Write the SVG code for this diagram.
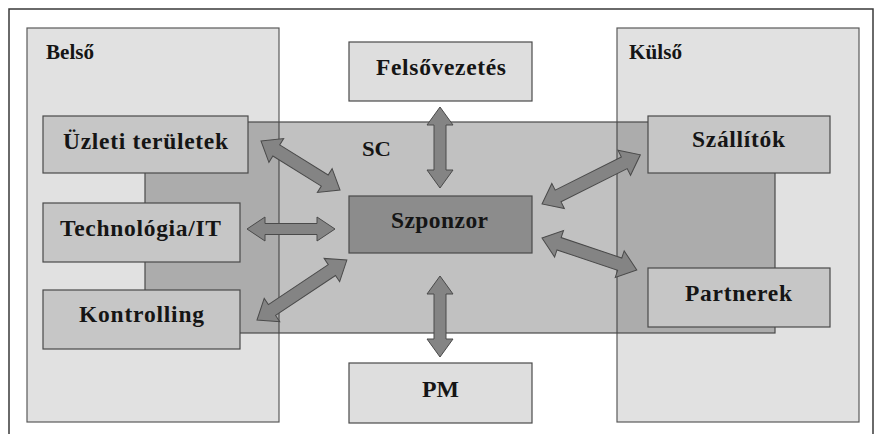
<svg xmlns="http://www.w3.org/2000/svg" width="876" height="434" viewBox="0 0 876 434">
<style>
.frame{fill:none;stroke:#3a3a3a;stroke-width:1.5}
.zone{fill:#e1e1e1;stroke:#5a5a5a;stroke-width:1.2}
.sc{fill:#333333;fill-opacity:0.3;stroke:#4a4a4a;stroke-width:1.2}
.node{fill:#c6c6c6;stroke:#4a4a4a;stroke-width:1.2}
.light{fill:#dedede;stroke:#4a4a4a;stroke-width:1.2}
.dark{fill:#8c8c8c;stroke:#4a4a4a;stroke-width:1.2}
.arrow{fill:#848484;stroke:#4a4a4a;stroke-width:1}
text{font-family:"Liberation Serif","Times New Roman",serif;font-weight:bold;fill:#151515}
.t{font-size:23.5px;text-anchor:middle}
.z{font-size:20px}
</style>
<rect width="876" height="434" fill="#ffffff"/>
<path class="frame" d="M9,434 V9 H873 V434"/>
<g id="belso">
<rect class="zone" x="27" y="28" width="252" height="394"/>
<text class="z" x="46" y="58.5" textLength="48" lengthAdjust="spacingAndGlyphs">Belső</text>
</g>
<g id="kulso">
<rect class="zone" x="617" y="28" width="242" height="394"/>
<text class="z" x="629" y="58.5" textLength="53" lengthAdjust="spacingAndGlyphs">Külső</text>
</g>
<g id="sc">
<rect class="sc" x="145" y="122" width="630" height="211"/>
<text x="362" y="156" font-size="21.5" textLength="29" lengthAdjust="spacingAndGlyphs">SC</text>
</g>
<g id="uzleti">
<rect class="node" x="43" y="116" width="205" height="57"/>
<text class="t" x="145.5" y="148.5" textLength="165" lengthAdjust="spacing">Üzleti területek</text>
</g>
<g id="technologia">
<rect class="node" x="43" y="203" width="197" height="59"/>
<text class="t" x="140.5" y="235.5" textLength="161" lengthAdjust="spacing">Technológia/IT</text>
</g>
<g id="kontrolling">
<rect class="node" x="43" y="290" width="197" height="59"/>
<text class="t" x="141.5" y="322" textLength="125" lengthAdjust="spacing">Kontrolling</text>
</g>
<g id="felsovezetes">
<rect class="light" x="349" y="42" width="183" height="59"/>
<text class="t" x="441" y="74.5" textLength="130" lengthAdjust="spacing">Felsővezetés</text>
</g>
<g id="szponzor">
<rect class="dark" x="349" y="196" width="183" height="57"/>
<text class="t" x="439.5" y="228" textLength="97" lengthAdjust="spacing">Szponzor</text>
</g>
<g id="pm">
<rect class="light" x="349" y="363" width="183" height="60"/>
<text class="t" x="440.5" y="397" textLength="37" lengthAdjust="spacingAndGlyphs">PM</text>
</g>
<g id="szallitok">
<rect class="node" x="648" y="116" width="182" height="57"/>
<text class="t" x="738.5" y="147" textLength="93" lengthAdjust="spacing">Szállítók</text>
</g>
<g id="partnerek">
<rect class="node" x="648" y="268" width="182" height="59"/>
<text class="t" x="738.5" y="301" textLength="107" lengthAdjust="spacing">Partnerek</text>
</g>
<g id="connectors">
<path class="arrow" transform="translate(261,141) rotate(31.8)" d="M0,0 L18,-14 L18,-6.5 L75,-6.5 L75,-14 L93,0 L75,14 L75,6.5 L18,6.5 L18,14 Z"/>
<path class="arrow" transform="translate(247,229)" d="M0,0 L18,-12 L18,-5.5 L70,-5.5 L70,-12 L88,0 L70,12 L70,5.5 L18,5.5 L18,12 Z"/>
<path class="arrow" transform="translate(257,320) rotate(-33.7)" d="M0,0 L18,-14 L18,-6.5 L90,-6.5 L90,-14 L108,0 L90,14 L90,6.5 L18,6.5 L18,14 Z"/>
<path class="arrow" transform="translate(542,204) rotate(-26.6)" d="M0,0 L18,-14 L18,-6.5 L92,-6.5 L92,-14 L110,0 L92,14 L92,6.5 L18,6.5 L18,14 Z"/>
<path class="arrow" transform="translate(542,238) rotate(18.6)" d="M0,0 L18,-14 L18,-6.5 L82,-6.5 L82,-14 L100,0 L82,14 L82,6.5 L18,6.5 L18,14 Z"/>
<path class="arrow" transform="translate(440,107) rotate(90)" d="M0,0 L18,-13 L18,-6 L63,-6 L63,-13 L81,0 L63,13 L63,6 L18,6 L18,13 Z"/>
<path class="arrow" transform="translate(440,276) rotate(90)" d="M0,0 L18,-13 L18,-6 L63,-6 L63,-13 L81,0 L63,13 L63,6 L18,6 L18,13 Z"/>
</g>
</svg>
